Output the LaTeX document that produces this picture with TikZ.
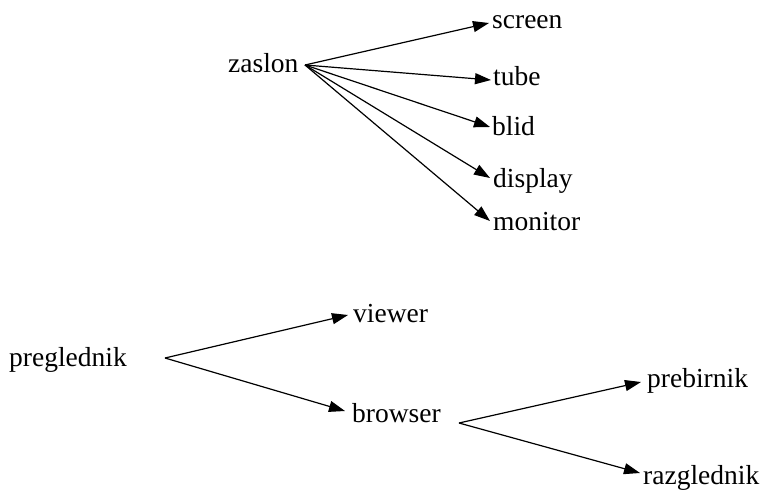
\documentclass[tikz,border=0pt]{standalone}
\usepackage{fontspec}
\setmainfont{Liberation Serif}
\usetikzlibrary{arrows.meta}
\begin{document}
\begin{tikzpicture}[x=1pt,y=-1pt,
  word/.style={anchor=base west,inner sep=0pt,font=\fontsize{27.5}{30}\selectfont},
  link/.style={line width=1.2pt,-{Triangle[length=16pt,width=11pt]}}]
\useasboundingbox (0,0) rectangle (767,490);

% first tree
\node[word] (zaslon)  at (228,72)  {zaslon};
\node[word] (screen)  at (492,28)  {screen};
\node[word] (tube)    at (493,85)  {tube};
\node[word] (blid)    at (492,135) {blid};
\node[word] (display) at (493,187) {display};
\node[word] (monitor) at (493,230) {monitor};
\coordinate (zaslon-out) at (305,65);
\coordinate (screen-in)  at (489,23);
\coordinate (tube-in)    at (491,80);
\coordinate (blid-in)    at (490,127);
\coordinate (display-in) at (490,178);
\coordinate (monitor-in) at (490,221);
\foreach \t in {screen,tube,blid,display,monitor}
  \draw[link] (zaslon-out) -- (\t-in);

% second tree
\node[word] (preglednik) at (9,366)   {preglednik};
\node[word] (viewer)     at (353,322) {viewer};
\node[word] (browser)    at (352,422) {browser};
\node[word] (prebirnik)  at (647,387) {prebirnik};
\node[word] (razgled)    at (643,484) {razglednik};
\coordinate (preglednik-out) at (165,358);
\coordinate (viewer-in)      at (348,315);
\coordinate (browser-in)     at (345,411);
\coordinate (browser-out)    at (459,423);
\coordinate (prebirnik-in)   at (641,382);
\coordinate (razgled-in)     at (640,473);
\draw[link] (preglednik-out) -- (viewer-in);
\draw[link] (preglednik-out) -- (browser-in);
\draw[link] (browser-out) -- (prebirnik-in);
\draw[link] (browser-out) -- (razgled-in);
\end{tikzpicture}
\end{document}
